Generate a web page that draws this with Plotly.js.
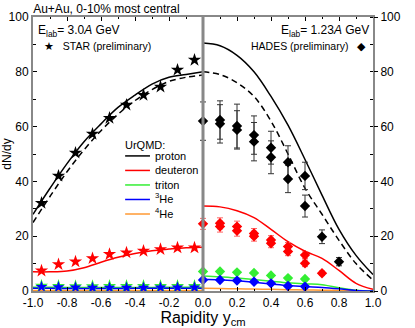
<!DOCTYPE html>
<html>
<head>
<meta charset="utf-8">
<script src="https://cdn.plot.ly/plotly-3.0.1.min.js"></script>
<style>body{margin:0;padding:0;background:#fff}#chart{width:415px;height:328px}</style>
</head>
<body>
<div id="chart"></div>
<script>
// model curves, left (3.0A GeV) and right (1.23A GeV)
var xLeft  = [-1.0,-0.9,-0.8,-0.7,-0.6,-0.5,-0.4,-0.3,-0.2,-0.1,0.0];
var xRight = [0.0,0.1,0.2,0.3,0.4,0.5,0.6,0.7,0.8,0.9,1.0];

var pSolidL  = [28,37.5,46.5,54.5,61,67,71.5,75.5,78,79,80];
var pDashL   = [25,34.5,43.5,51.5,58.5,64.5,69.5,73.5,76.5,78,78.8];
var dLineL   = [7,7,7.3,8.5,10.5,12.3,13.7,14.7,15.3,15.8,16];
var tLineL   = [1.4,1.4,1.3,1.3,1.3,1.3,1.3,1.3,1.4,1.4,1.4];
var he3LineL = [1.0,1.0,0.9,0.9,0.9,0.9,1.0,1.0,1.0,1.0,1.0];
var he4LineL = [0.2,0.2,0.2,0.2,0.2,0.2,0.2,0.2,0.2,0.2,0.2];

var pSolidR  = [90.5,89.5,86,80,71,60.5,48,35,22.5,13,6];
var pDashR   = [80,79,76,71,62,50,37.5,28,18.5,10,4];
var dLineR   = [31,30.7,29.3,26.8,22.5,18,14.5,11.9,7.5,2.8,0.6];
var tLineR   = [5.5,5.2,4.7,4.2,3.6,3.0,2.6,2.3,1.2,0.3,0];
var he3LineR = [4.3,4.1,3.7,3.2,2.6,2.0,1.6,1.3,0.8,0.2,0];
var he4LineR = [1.0,0.9,0.8,0.7,0.6,0.5,0.4,0.3,0.2,0.1,0];

// STAR (preliminary)
var starX   = [-0.95,-0.85,-0.75,-0.65,-0.55,-0.45,-0.35,-0.25,-0.15,-0.05];
var starP   = [32.1,42.0,50.4,57.3,63.1,67.9,71.5,74.5,80.7,84.3];
var starD   = [7.4,9.7,10.7,11.9,13.4,14.0,14.6,15.2,15.8,15.8];
var starT   = [1.9,1.8,1.7,1.7,1.8,1.8,1.8,1.8,1.8,1.8];
var starHe3 = [1.5,1.4,1.3,1.2,1.2,1.2,1.2,1.3,1.3,1.3];

// HADES (preliminary)
var hadesPX   = [0,0.1,0.1,0.2,0.2,0.3,0.3,0.4,0.4,0.5,0.5,0.6,0.6,0.7,0.8];
var hadesP    = [62,62.4,61,60.2,58.8,56.9,54.5,52.3,48.8,47,40.9,42,31,19.8,10.7];
var hadesPErr = [7,7,7,8,7,7,7,6,6,6,5,5,4,2.5,1.5];
var hadesDX   = [0,0.1,0.1,0.2,0.2,0.3,0.3,0.4,0.4,0.5,0.5,0.6,0.6,0.7];
var hadesD    = [24.5,24.7,23.5,23.5,22,21,20,18.6,17.4,16.2,14.4,13.1,10.1,6.5];
var hadesDErr = [2,2,2,2,2,1.8,1.8,1.6,1.6,1.5,1.5,1.2,1.2,0.8];
var hadesTX   = [0,0.1,0.2,0.3,0.4,0.5,0.6];
var hadesT    = [7.1,7.1,6.8,6.6,5.7,4.7,4.4];
var hadesHe3  = [4.0,4.0,3.8,3.4,2.8,1.8,1.6];

var xTicks = [-1.0,-0.8,-0.6,-0.4,-0.2,0.0,0.2,0.4,0.6,0.8,1.0];
var xTickText = ['-1.0','-0.8','-0.6','-0.4','-0.2','0.0','0.2','0.4','0.6','0.8','1.0'];

var legendNames = ['proton','deuteron','triton','<sup>3</sup>He','<sup>4</sup>He'];

var RED = '#ff0000', GREEN = '#33ee33', BLUE = '#0000ff', ORANGE = '#ff9933';
var legendColors = ['black', RED, GREEN, BLUE, ORANGE];

function line(x, y, color, dash) {
  return {x: x, y: y, mode: 'lines', showlegend: false,
    line: {color: color, width: 1.5, dash: dash || 'solid', shape: 'spline'}};
}
function pts(x, y, sym, color, size, err, errColor) {
  var t = {x: x, y: y, mode: 'markers', showlegend: false,
    marker: {symbol: sym, color: color, size: size}};
  if (err) t.error_y = {type: 'data', array: err, color: errColor, thickness: 1, width: 3};
  return t;
}

var DASH = '6px,4px';
var data = [
  line(xLeft, he4LineL, ORANGE), line(xRight, he4LineR, ORANGE),
  line(xLeft, tLineL, GREEN), line(xRight, tLineR, GREEN),
  line(xLeft, he3LineL, BLUE), line(xRight, he3LineR, BLUE),
  line(xLeft, dLineL, RED), line(xRight, dLineR, RED),
  line(xLeft, pDashL, 'black', DASH), line(xRight, pDashR, 'black', DASH),
  line(xLeft, pSolidL, 'black'), line(xRight, pSolidR, 'black'),
  pts(starX, starT, 'star', GREEN, 10),
  pts(starX, starHe3, 'star', BLUE, 9),
  pts(starX, starD, 'star', RED, 10),
  pts(starX, starP, 'star', 'black', 10),
  pts(hadesTX, hadesT, 'diamond', GREEN, 8),
  pts(hadesTX, hadesHe3, 'diamond', BLUE, 8),
  pts(hadesDX, hadesD, 'diamond', RED, 8, hadesDErr, '#ff6666'),
  pts(hadesPX, hadesP, 'diamond', 'black', 8, hadesPErr, '#333'),
  {x: [0], y: [0], yaxis: 'y2', mode: 'markers', showlegend: false, hoverinfo: 'skip', marker: {opacity: 0}}
];

// hand-made legend block (UrQMD)
var legX0 = 0.271, legX1 = 0.344, legTextX = 0.352;
var legTitleY = 0.533, legY0 = 0.493, legStep = 0.053;
var shapes = [
  {type: 'line', xref: 'x', yref: 'paper', x0: 0, x1: 0, y0: 0, y1: 1,
    line: {color: '#888', width: 3}}
];
var annotations = [
  {xref: 'paper', yref: 'paper', x: 0.01, y: 0.985, xanchor: 'left', yanchor: 'top', showarrow: false,
    text: 'E<sub>lab</sub>= 3.0<i>A</i> GeV', font: {size: 12}},
  {xref: 'paper', yref: 'paper', x: 0.025, y: 0.925, xanchor: 'left', yanchor: 'top', showarrow: false,
    text: '\u2605   STAR (preliminary)', font: {size: 10.5}},
  {xref: 'paper', yref: 'paper', x: 0.995, y: 0.985, xanchor: 'right', yanchor: 'top', showarrow: false,
    text: 'E<sub>lab</sub>= 1.23<i>A</i> GeV', font: {size: 12}},
  {xref: 'paper', yref: 'paper', x: 0.985, y: 0.925, xanchor: 'right', yanchor: 'top', showarrow: false,
    text: 'HADES (preliminary)   \u25c6', font: {size: 10.5}},
  {xref: 'paper', yref: 'paper', x: legX0 - 0.005, y: legTitleY, xanchor: 'left', yanchor: 'middle', showarrow: false,
    text: 'UrQMD:', font: {size: 11}}
];
legendNames.forEach(function (name, i) {
  var yy = legY0 - i * legStep;
  shapes.push({type: 'line', xref: 'paper', yref: 'paper', x0: legX0, x1: legX1, y0: yy, y1: yy,
    line: {color: legendColors[i], width: 1.5}});
  annotations.push({xref: 'paper', yref: 'paper', x: legTextX, y: yy + (i > 2 ? 0.005 : 0), xanchor: 'left', yanchor: 'middle',
    showarrow: false, text: name, font: {size: 11}});
});

var layout = {
  width: 415, height: 328,
  margin: {l: 33, r: 42, t: 17, b: 37},
  paper_bgcolor: '#fff', plot_bgcolor: '#fff',
  font: {family: 'Liberation Sans, Arial, sans-serif', size: 12, color: '#000'},
  showlegend: false,
  title: {text: 'Au+Au, 0-10% most central', x: 0.08, xanchor: 'left', y: 0.985, yanchor: 'top',
    font: {size: 12}},
  xaxis: {
    range: [-1, 1], tickvals: xTicks, ticktext: xTickText,
    ticks: 'inside', ticklen: 4, tickcolor: '#000',
    minor: {dtick: 0.1, ticks: 'inside', ticklen: 2, tickcolor: '#000'},
    showline: true, linecolor: '#888', linewidth: 2, mirror: 'ticks',
    showgrid: false, zeroline: false,
    title: {text: 'Rapidity y<sub>cm</sub>', font: {size: 16}, standoff: 3},
    tickfont: {size: 12}
  },
  yaxis: {
    range: [0, 100], dtick: 20,
    ticks: 'inside', ticklen: 4, tickcolor: '#000',
    minor: {dtick: 10, ticks: 'inside', ticklen: 3, tickcolor: '#000'},
    showline: true, linecolor: '#888', linewidth: 2, mirror: true,
    showgrid: false, zeroline: false,
    title: {text: 'dN/dy', font: {size: 12}, standoff: 4},
    tickfont: {size: 12}
  },
  yaxis2: {
    range: [0, 100], dtick: 20, overlaying: 'y', side: 'right',
    ticks: 'outside', ticklen: 4, tickcolor: '#000',
    minor: {dtick: 10, ticks: 'inside', ticklen: 3, tickcolor: '#000'},
    showline: false, showgrid: false, zeroline: false,
    tickfont: {size: 12}
  },
  shapes: shapes,
  annotations: annotations
};

Plotly.newPlot('chart', data, layout, {displayModeBar: false, staticPlot: true});
</script>
</body>
</html>
